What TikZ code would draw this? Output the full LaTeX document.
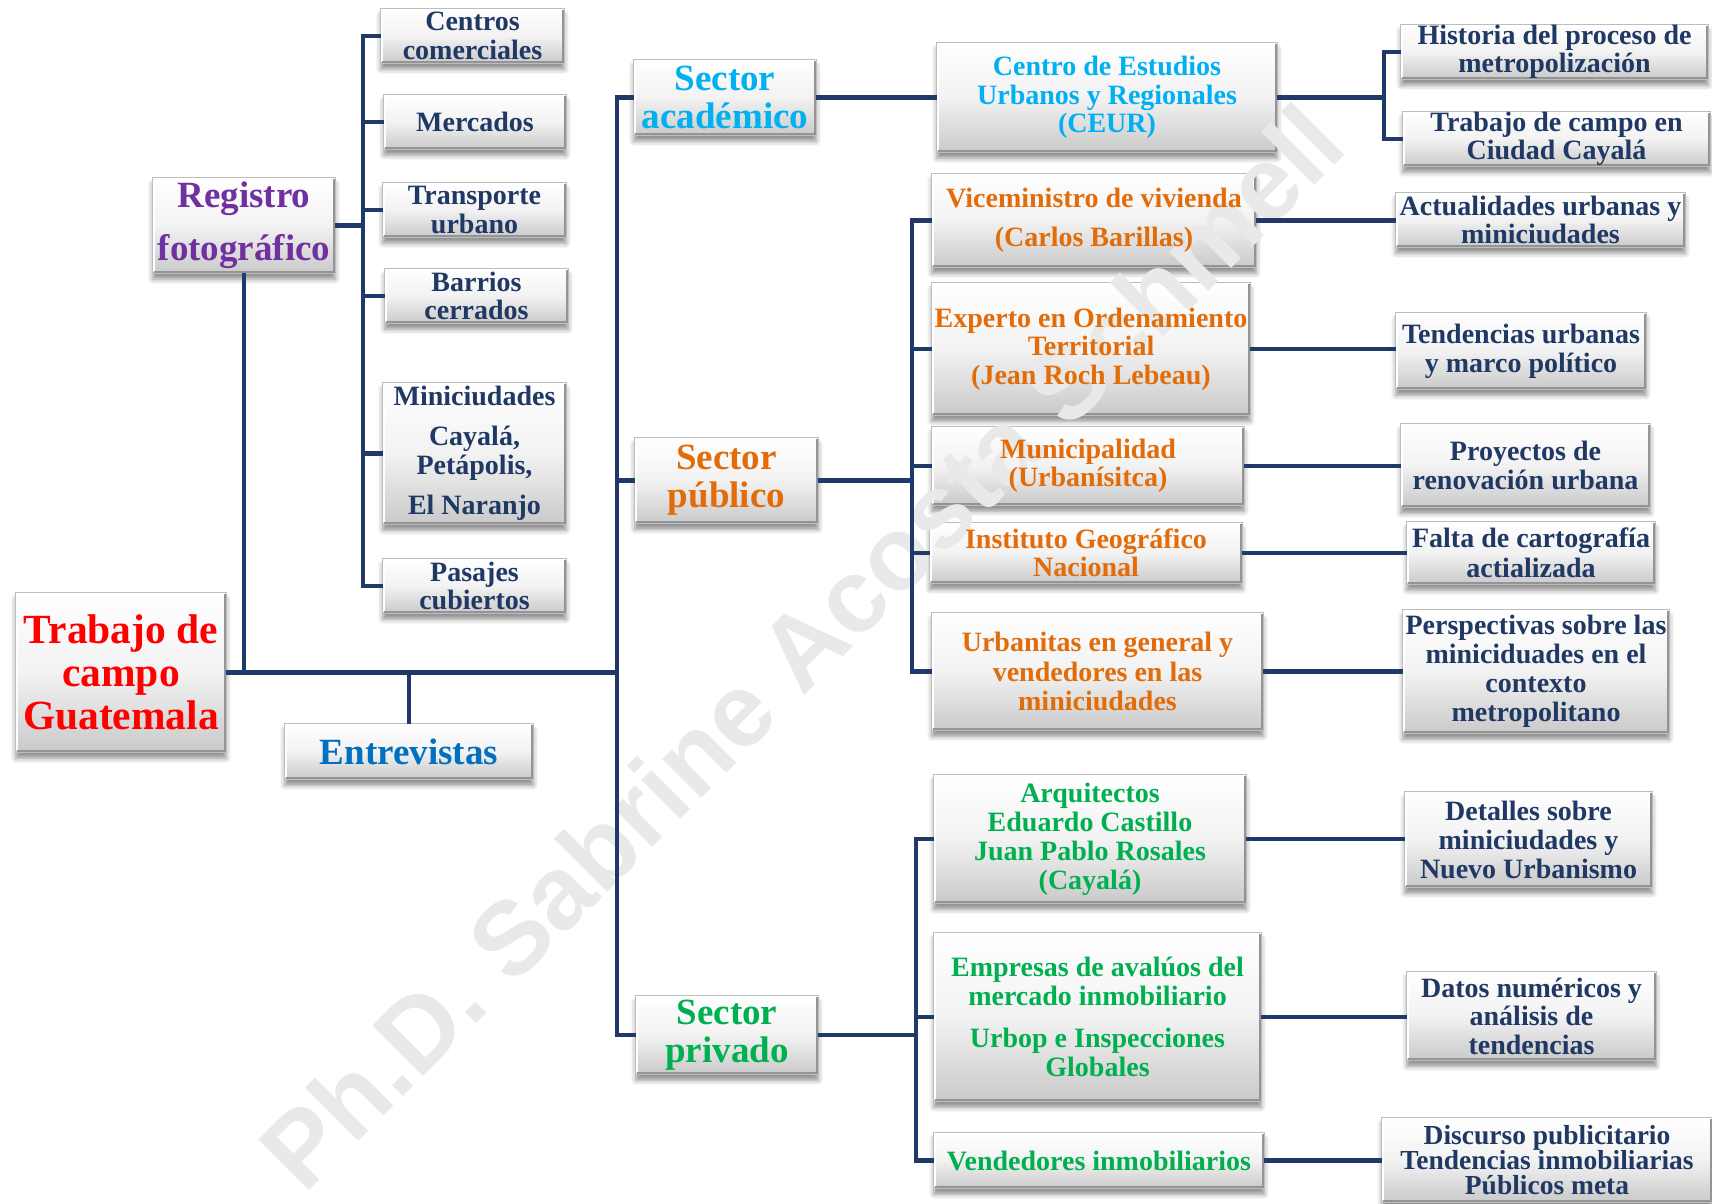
\documentclass[tikz,border=0pt]{standalone}
\usepackage{fontspec}
\setmainfont{Liberation Serif}
\newfontfamily\markfont{Liberation Sans}
\usetikzlibrary{shadows.blur,calc}

\definecolor{navy}{HTML}{1F3864}
\definecolor{linenavy}{HTML}{1F3A68}
\definecolor{purp}{HTML}{7030A0}
\definecolor{rootred}{HTML}{FF0000}
\definecolor{entblue}{HTML}{0070C0}
\definecolor{acadcyan}{HTML}{00B0F0}
\definecolor{orng}{HTML}{E36C0A}
\definecolor{grn}{HTML}{00B050}
\definecolor{wmgray}{HTML}{E9E9E9}

\pgfdeclarelayer{bg}
\pgfdeclarelayer{boxes}
\pgfdeclarelayer{mark}
\pgfsetlayers{bg,boxes,mark,main}

\tikzset{
  card/.style={inner sep=0pt, align=center, text=navy,
    font=\bfseries\fontsize{28}{28.5}\selectfont},
  title/.style={card, font=\bfseries\fontsize{37}{38}\selectfont},
  sz/.style 2 args={minimum width=#1pt, minimum height=#2pt},
  conn/.style={draw=linenavy, line width=4.5pt, line join=miter},
  cardshadow/.style={blur shadow={shadow xshift=0pt, shadow yshift=-6pt,
      shadow blur radius=5pt, shadow opacity=45}},
  cardbg/.style={top color=white, bottom color=black!21, middle color=black!5,
    draw=black!26, line width=0.8pt, cardshadow},
  cardlight/.style={draw=white, line width=2pt},
  carddark/.style={draw=black!42, line width=2.2pt},
}

\begin{document}
\begin{tikzpicture}[x=1pt, y=-1pt]
\useasboundingbox (0,0) rectangle (1712,1203);
\begin{pgfonlayer}{bg}
  \fill[white] (0,0) rectangle (1712,1203);
\end{pgfonlayer}

% --- root and first level ---
\node[card, sz={210}{159}, text=rootred,
      font=\bfseries\fontsize{41.5}{43}\selectfont] (tc) at (121,672.5)
      {Trabajo de\\campo\\Guatemala};
\node[title, sz={182}{95}, text=purp,
      font=\bfseries\fontsize{37}{53}\selectfont] (reg) at (244,225.5)
      {Registro\\fotográfico};
\node[title, sz={248}{55}, text=entblue] (ent) at (409,751.5) {Entrevistas};

% --- photographic record ---
\node[card, sz={183}{54}] (cc)    at (472.5,36)  {Centros\\comerciales};
\node[card, sz={182}{54}] (merc)  at (475,122)   {Mercados};
\node[card, sz={183}{54}] (trans) at (474.5,210) {Transporte\\urbano};
\node[card, sz={183}{54}] (barr)  at (476.5,296) {Barrios\\cerrados};
\node[card, sz={183}{141}] (mini) at (474.5,453.5)
      {Miniciudades\\[12pt]Cayalá,\\Petápolis,\\[12pt]El Naranjo};
\node[card, sz={183}{54}] (pas)   at (474.5,586) {Pasajes\\cubiertos};

% --- sectors ---
\node[title, sz={182}{75}, text=acadcyan] (acad) at (725,97.5)   {Sector\\académico};
\node[title, sz={183}{85}, text=orng]     (pub)  at (726.5,480.5) {Sector\\público};
\node[title, sz={182}{78}, text=grn]      (priv) at (727,1035)    {Sector\\privado};

% --- interviewees ---
\node[card, sz={340}{109}, text=acadcyan] (ceur) at (1107,97.5)
      {Centro de Estudios\\Urbanos y Regionales\\(CEUR)};
\node[card, sz={324}{93}, text=orng] (vice) at (1094,220.5)
      {Viceministro de vivienda\\[11pt](Carlos Barillas)};
\node[card, sz={318}{132}, text=orng] (exp) at (1091,349)
      {Experto en Ordenamiento\\Territorial\\(Jean Roch Lebeau)};
\node[card, sz={312}{78}, text=orng] (muni) at (1088,466)
      {Municipalidad\\(Urbanísitca)};
\node[card, sz={312}{60}, text=orng] (inst) at (1086,553)
      {Instituto Geográfico\\Nacional};
\node[card, sz={331}{117}, text=orng,
      font=\bfseries\fontsize{28}{29.5}\selectfont] (urb) at (1097.5,671.5)
      {Urbanitas en general y\\vendedores en las\\miniciudades};
\node[card, sz={312}{128}, text=grn,
      font=\bfseries\fontsize{28}{29}\selectfont] (arq) at (1090,839)
      {Arquitectos\\Eduardo Castillo\\Juan Pablo Rosales\\(Cayalá)};
\node[card, sz={327}{168}, text=grn] (emp) at (1097.5,1017)
      {Empresas de avalúos del\\mercado inmobiliario\\[14pt]Urbop e Inspecciones\\Globales};
\node[card, sz={330}{55}, text=grn] (vend) at (1099,1160.5)
      {Vendedores inmobiliarios};

% --- topics ---
\node[card, sz={307}{54}] (hist) at (1554.5,52)  {Historia del proceso de\\metropolización};
\node[card, sz={307}{54}] (tcc)  at (1556.5,139) {Trabajo de campo en\\Ciudad Cayalá};
\node[card, sz={289}{54}] (act)  at (1540.5,220) {Actualidades urbanas y\\miniciudades};
\node[card, sz={250}{76}, font=\bfseries\fontsize{28}{29}\selectfont] (tend) at (1521,351)
      {Tendencias urbanas\\y marco político};
\node[card, sz={249}{83}, font=\bfseries\fontsize{28}{29}\selectfont] (proy) at (1525.5,465.5)
      {Proyectos de\\renovación urbana};
\node[card, sz={248}{62}, font=\bfseries\fontsize{28}{30}\selectfont] (falta) at (1531,553)
      {Falta de cartografía\\actializada};
\node[card, sz={266}{123}, font=\bfseries\fontsize{28}{29}\selectfont] (persp) at (1536,671.5)
      {Perspectivas sobre las\\miniciduades en el\\contexto\\metropolitano};
\node[card, sz={247}{95}, font=\bfseries\fontsize{28}{29}\selectfont] (det) at (1528.5,839.5)
      {Detalles sobre\\miniciudades y\\Nuevo Urbanismo};
\node[card, sz={249}{88}] (datos) at (1531.5,1016)
      {Datos numéricos y\\análisis de\\tendencias};
\node[card, sz={330}{84}, font=\bfseries\fontsize{27.5}{25}\selectfont] (disc) at (1547,1160)
      {Discurso publicitario\\Tendencias inmobiliarias\\Públicos meta};

% --- bevelled card faces ---
\begin{pgfonlayer}{boxes}
% a throw-away shadowed square off the page, so every card shadow is set up alike
\path[fill=white, cardshadow] (-300,-300) rectangle (-250,-250);
\foreach \n in {tc,reg,ent,cc,merc,trans,barr,mini,pas,acad,pub,priv,ceur,vice,exp,
                muni,inst,urb,arq,emp,vend,hist,tcc,act,tend,proy,falta,persp,det,datos,disc}{
  \path[cardbg] (\n.south west) rectangle (\n.north east);
  \draw[cardlight] ([shift={(1.4pt,1.4pt)}]\n.south west)
                -- ([shift={(1.4pt,-1.4pt)}]\n.north west)
                -- ([shift={(-1.4pt,-1.4pt)}]\n.north east);
  \draw[carddark] ([shift={(1.2pt,1.2pt)}]\n.south west)
               -- ([shift={(-1.2pt,1.2pt)}]\n.south east)
               -- ([shift={(-1.2pt,-1.2pt)}]\n.north east);
}
\end{pgfonlayer}

% --- watermark ---
\begin{pgfonlayer}{mark}
\node[anchor=base west, rotate=45, inner sep=0pt, text=wmgray,
      font=\markfont\bfseries\fontsize{104}{104}\selectfont] (wm) at (304,1196)
      {Ph.D. Sabrine Acosta Schmell};
\end{pgfonlayer}

% --- connectors ---
\coordinate (rb) at (363,0);
\coordinate (mb) at (617,0);
\coordinate (cb) at (1384,0);
\coordinate (pb) at (912,0);
\coordinate (vb) at (916,0);

\draw[conn] (cc.west) -| (pas.west -| rb) -- (pas.west);
\foreach \n in {merc,trans,barr,mini} \draw[conn] (\n.west -| rb) -- (\n.west);
\draw[conn] (reg.east) -- (reg.east -| rb);
\draw[conn] (reg.south) -- (reg.south |- tc.east);
\draw[conn] (tc.east) -- (tc.east -| mb);
\draw[conn] (ent.north) -- (ent.north |- tc.east);

\draw[conn] (acad.west) -| (priv.west -| mb) -- (priv.west);
\draw[conn] (pub.west -| mb) -- (pub.west);

\draw[conn] (acad.east) -- (ceur.west);
\draw[conn] (ceur.east) -- (ceur.east -| cb);
\draw[conn] (hist.west) -| (tcc.west -| cb) -- (tcc.west);

\draw[conn] (pub.east) -- (pub.east -| pb);
\draw[conn] (vice.west) -| (urb.west -| pb) -- (urb.west);
\foreach \n in {exp,muni,inst} \draw[conn] (\n.west -| pb) -- (\n.west);

\draw[conn] (priv.east) -- (priv.east -| vb);
\draw[conn] (arq.west) -| (vend.west -| vb) -- (vend.west);
\draw[conn] (emp.west -| vb) -- (emp.west);

\foreach \a/\b in {vice/act,exp/tend,muni/proy,inst/falta,urb/persp,arq/det,emp/datos,vend/disc}
  \draw[conn] (\a.east) -- (\a.east -| \b.west);
\end{tikzpicture}
\end{document}
